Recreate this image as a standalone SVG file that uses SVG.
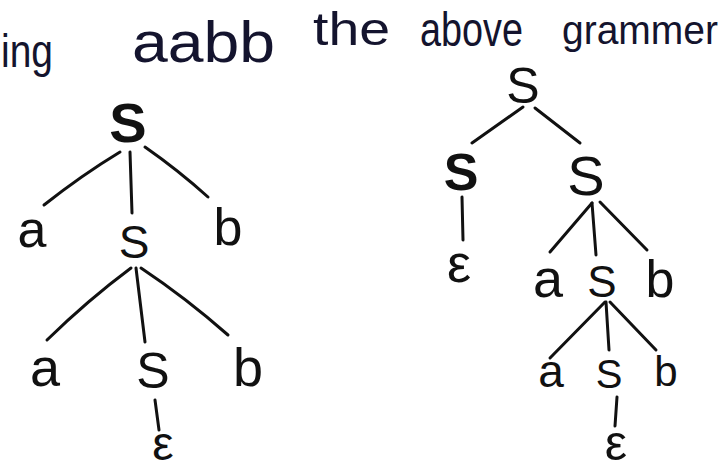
<svg xmlns="http://www.w3.org/2000/svg" width="724" height="472" viewBox="0 0 724 472">
<style>
text{font-family:"Liberation Sans",Arial,sans-serif;fill:#111;text-anchor:middle}
.hd{fill:#14142e;text-anchor:start}
.e{fill:none;stroke:#111;stroke-width:3;stroke-linecap:round}
</style>
<rect width="724" height="472" fill="#fff"/>
<g id="heading">
<text class="hd" x="1" y="67" font-size="46" textLength="52" lengthAdjust="spacingAndGlyphs">ing</text>
<text class="hd" x="132" y="62" font-size="58" textLength="143" lengthAdjust="spacingAndGlyphs">aabb</text>
<text class="hd" x="313" y="45" font-size="46" textLength="77" lengthAdjust="spacingAndGlyphs">the</text>
<text class="hd" x="420" y="46" font-size="48" textLength="103" lengthAdjust="spacingAndGlyphs">above</text>
<text class="hd" x="562" y="44" font-size="40" textLength="156" lengthAdjust="spacingAndGlyphs">grammer</text>
</g>
<g id="connectors">
<path class="e" d="M120,152 Q82,175 44,205"/>
<path class="e" d="M130,152 L132,213"/>
<path class="e" d="M145,147 Q178,170 208,197"/>
<path class="e" d="M131,268 Q88,300 47,340"/>
<path class="e" d="M136,268 L145,342"/>
<path class="e" d="M141,268 Q186,298 228,335"/>
<path class="e" d="M155,400 L159,430"/>
<path class="e" d="M523,107 L472,143"/>
<path class="e" d="M535,108 L580,143"/>
<path class="e" d="M462,197 L463,240"/>
<path class="e" d="M592,203 L550,252"/>
<path class="e" d="M592,203 L596,255"/>
<path class="e" d="M600,202 L647,250"/>
<path class="e" d="M605,302 L550,358"/>
<path class="e" d="M606,302 L609,350"/>
<path class="e" d="M610,302 L656,350"/>
<path class="e" d="M617,397 L615,426"/>
</g>
<g id="t1-root"><text x="128" y="142" font-size="56" font-weight="bold">S</text></g>
<g id="t1-a1"><text x="32" y="247" font-size="52">a</text></g>
<g id="t1-s1"><text x="134" y="258" font-size="46">S</text></g>
<g id="t1-b1"><text x="228" y="245" font-size="52">b</text></g>
<g id="t1-a2"><text x="45" y="386" font-size="54">a</text></g>
<g id="t1-s2"><text x="153" y="388" font-size="50">S</text></g>
<g id="t1-b2"><text x="248" y="386" font-size="54">b</text></g>
<g id="t1-eps"><text x="163" y="460" font-size="48">ε</text></g>
<g id="t2-root"><text x="523" y="103" font-size="50">S</text></g>
<g id="t2-sl"><text x="461" y="190" font-size="52" font-weight="bold">S</text></g>
<g id="t2-epsl"><text x="459" y="282" font-size="54">ε</text></g>
<g id="t2-sr"><text x="586" y="195" font-size="56">S</text></g>
<g id="t2-a1"><text x="548" y="297" font-size="54">a</text></g>
<g id="t2-s1"><text x="602" y="297" font-size="44">S</text></g>
<g id="t2-b1"><text x="660" y="297" font-size="52">b</text></g>
<g id="t2-a2"><text x="551" y="387" font-size="46">a</text></g>
<g id="t2-s2"><text x="609" y="388" font-size="40">S</text></g>
<g id="t2-b2"><text x="666" y="386" font-size="42">b</text></g>
<g id="t2-eps"><text x="616" y="460" font-size="50">ε</text></g>
</svg>
